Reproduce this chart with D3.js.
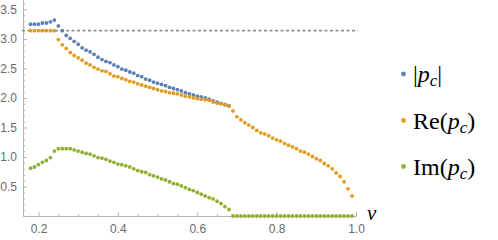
<!DOCTYPE html>
<html>
<head>
<meta charset="utf-8">
<script src="https://cdn.jsdelivr.net/npm/d3@7"></script>
<style>
  body { margin: 0; background: #fff; }
  svg { display: block; }
</style>
</head>
<body>
<div id="chart"></div>
<script>
// sample points v = 0.18 ... 0.99
const vValues = d3.range(18, 100).map(i => i / 100);

// |p_c| (only visible part, below it coincides with Re)
const absValues = [
  3.25, 3.25, 3.25, 3.27, 3.27, 3.29, 3.32, 3.22, 3.14, 3.06,
  3.01, 2.96, 2.91, 2.85, 2.81, 2.78, 2.74, 2.69, 2.65, 2.62,
  2.60, 2.56, 2.53, 2.49, 2.47, 2.44, 2.42, 2.38, 2.36, 2.32,
  2.30, 2.27, 2.25, 2.23, 2.21, 2.18, 2.16, 2.14, 2.12, 2.09,
  2.07, 2.05, 2.03, 2.02, 2.00, 1.98, 1.95, 1.93, 1.91, 1.89,
  1.87
];

// Re(p_c)
const reValues = [
  3.14, 3.14, 3.14, 3.14, 3.14, 3.14, 3.14, 2.99, 2.90, 2.84,
  2.77, 2.72, 2.68, 2.64, 2.59, 2.56, 2.52, 2.49, 2.46, 2.45,
  2.41, 2.37, 2.36, 2.33, 2.31, 2.28, 2.27, 2.24, 2.22, 2.20,
  2.18, 2.16, 2.14, 2.12, 2.11, 2.09, 2.08, 2.07, 2.05, 2.03,
  2.02, 2.00, 1.99, 1.98, 1.97, 1.96, 1.93, 1.91, 1.90, 1.88,
  1.86, 1.78, 1.68, 1.63, 1.58, 1.54, 1.50, 1.45, 1.41, 1.39,
  1.36, 1.32, 1.29, 1.27, 1.23, 1.20, 1.17, 1.14, 1.10, 1.08,
  1.05, 1.01, 0.97, 0.94, 0.89, 0.85, 0.80, 0.73, 0.67, 0.58,
  0.46, 0.34
];

// Im(p_c)
const imValues = [
  0.81, 0.83, 0.87, 0.91, 0.94, 0.99, 1.10, 1.14, 1.14, 1.14,
  1.14, 1.12, 1.10, 1.08, 1.06, 1.05, 1.02, 0.99, 0.98, 0.96,
  0.93, 0.91, 0.88, 0.87, 0.85, 0.83, 0.80, 0.77, 0.75, 0.74,
  0.70, 0.68, 0.66, 0.63, 0.61, 0.58, 0.55, 0.54, 0.51, 0.48,
  0.45, 0.43, 0.40, 0.37, 0.34, 0.31, 0.29, 0.25, 0.21, 0.16,
  0.11, 0, 0, 0, 0, 0, 0, 0, 0, 0,
  0, 0, 0, 0, 0, 0, 0, 0, 0, 0,
  0, 0, 0, 0, 0, 0, 0, 0, 0, 0,
  0, 0
];

const referenceLine = Math.PI;

const xMajorTicks = [0.2, 0.4, 0.6, 0.8, 1.0];
const yMajorTicks = [0.5, 1.0, 1.5, 2.0, 2.5, 3.0, 3.5];

const seriesNames = ['abs', 're', 'im'];
const colors = { abs: '#5E81B5', re: '#E19C24', im: '#8FB032' };

const width = 498;
const height = 240;

const svg = d3.select('#chart')
  .append('svg')
  .attr('width', width)
  .attr('height', height);

const x = d3.scaleLinear().domain([0.161, 1.0]).range([23, 356]);
const y = d3.scaleLinear().domain([0, 3.66]).range([216, 0]);

const axisColor = '#b5b5b5';
const labelColor = '#6a6a6a';
const tickFont = '"Liberation Sans", Arial, sans-serif';

// minor ticks
const xMinor = d3.range(4, 21).map(i => i * 0.05).filter(v => !xMajorTicks.some(m => Math.abs(m - v) < 1e-6));
const yMinor = d3.range(1, 37).map(i => i * 0.1).filter(v => !yMajorTicks.some(m => Math.abs(m - v) < 1e-6));

function styleAxis(g) {
  g.select('.domain').attr('stroke', axisColor);
  g.selectAll('.tick line').attr('stroke', axisColor);
  g.selectAll('.tick text')
    .attr('fill', labelColor)
    .attr('font-family', tickFont)
    .attr('font-size', 12);
}

// x axis
svg.append('g')
  .attr('transform', `translate(0,${y(0)})`)
  .call(d3.axisBottom(x).tickValues(xMinor).tickSize(-2).tickSizeOuter(0).tickFormat(''))
  .call(styleAxis);

svg.append('g')
  .attr('transform', `translate(0,${y(0)})`)
  .call(d3.axisBottom(x).tickValues(xMajorTicks).tickSize(-4).tickSizeOuter(0).tickPadding(8).tickFormat(d3.format('.1f')))
  .call(styleAxis);

// y axis
svg.append('g')
  .attr('transform', `translate(${x(0.161)},0)`)
  .call(d3.axisLeft(y).tickValues(yMinor).tickSize(-2).tickSizeOuter(0).tickFormat(''))
  .call(styleAxis);

svg.append('g')
  .attr('transform', `translate(${x(0.161)},0)`)
  .call(d3.axisLeft(y).tickValues(yMajorTicks).tickSize(-4).tickSizeOuter(0).tickPadding(6).tickFormat(d3.format('.1f')))
  .call(styleAxis);

// dashed pi line
svg.append('line')
  .attr('x1', 22)
  .attr('x2', 358)
  .attr('y1', y(referenceLine))
  .attr('y2', y(referenceLine))
  .attr('stroke', '#8f8f8f')
  .attr('stroke-width', 1.8)
  .attr('stroke-dasharray', '3,2.5');

// points
const seriesData = {
  abs: absValues.map((val, i) => ({ v: vValues[i], val })),
  re: reValues.map((val, i) => ({ v: vValues[i], val })),
  im: imValues.map((val, i) => ({ v: vValues[i], val }))
};

seriesNames.forEach(name => {
  svg.append('g')
    .selectAll('circle')
    .data(seriesData[name])
    .enter()
    .append('circle')
    .attr('cx', d => x(d.v))
    .attr('cy', d => y(d.val))
    .attr('r', 1.9)
    .attr('fill', colors[name]);
});

// axis label v
svg.append('text')
  .attr('x', 367)
  .attr('y', 220)
  .attr('font-family', '"Liberation Serif", "Times New Roman", serif')
  .attr('font-style', 'italic')
  .attr('font-size', 21)
  .attr('fill', '#000')
  .text('v');

// legend
const legendItems = [
  { key: 'abs', pre: '|', post: '|', y: 74 },
  { key: 're', pre: 'Re(', post: ')', y: 120.5 },
  { key: 'im', pre: 'Im(', post: ')', y: 166.5 }
];

const legend = svg.append('g')
  .attr('font-family', '"Liberation Serif", "Times New Roman", serif')
  .attr('font-size', 24)
  .attr('fill', '#000');

legendItems.forEach(item => {
  legend.append('circle')
    .attr('cx', 403.5)
    .attr('cy', item.y)
    .attr('r', 2.4)
    .attr('fill', colors[item.key]);

  const t = legend.append('text')
    .attr('x', 413)
    .attr('y', item.y + 8);
  t.append('tspan').text(item.pre);
  t.append('tspan').attr('font-style', 'italic').text('p');
  t.append('tspan').attr('font-style', 'italic').attr('font-size', 17).attr('dy', 4).text('c');
  t.append('tspan').attr('dy', -4).text(item.post);
});
</script>
</body>
</html>
